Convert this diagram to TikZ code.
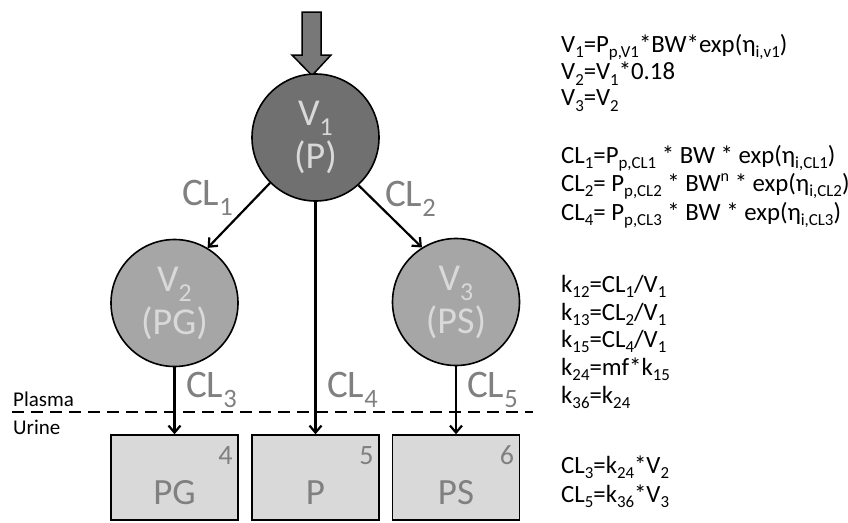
\documentclass[tikz,border=0pt]{standalone}
\usepackage{fontspec}
\usepackage{graphicx}
\setmainfont{Carlito}
\usetikzlibrary{arrows.meta}
\definecolor{darkc}{RGB}{112,112,112}
\definecolor{lightc}{RGB}{166,166,166}
\definecolor{ctext}{RGB}{217,217,217}
\definecolor{lblc}{RGB}{128,128,128}
\definecolor{boxf}{RGB}{217,217,217}
\definecolor{arrf}{RGB}{120,120,120}
\newcommand\sbs[1]{\raisebox{-0.27em}{\scalebox{0.68}{#1}}}
\newcommand\esb[1]{\raisebox{-0.23em}{\scalebox{0.68}{#1}}}
\newcommand\sps[1]{\raisebox{0.4em}{\scalebox{0.65}{#1}}}
\begin{document}
\begin{tikzpicture}[x=1pt,y=-1pt,
  circ/.style={circle, draw=black, line width=1.6pt, minimum size=127pt, inner sep=0pt,
    text=ctext, align=center, font=\fontsize{38}{43}\selectfont},
  boxn/.style={draw=black, line width=1.5pt, fill=boxf, minimum width=127pt, minimum height=85pt, inner sep=0pt},
  boxtxt/.style={text=lblc, font=\fontsize{37}{40}\selectfont, inner sep=0pt, anchor=base},
  numtxt/.style={text=lblc, font=\fontsize{28}{30}\selectfont, inner sep=0pt, anchor=base east},
  cl/.style={text=lblc, font=\fontsize{39}{40}\selectfont, inner sep=0pt, anchor=base west},
  arr/.style={-{Straight Barb[length=7pt,width=12pt]}, line width=2.2pt},
  eq/.style={font=\fontsize{24.8}{26}\selectfont, inner sep=0pt, anchor=base west},
  side/.style={font=\fontsize{21}{22}\selectfont, inner sep=0pt, anchor=base west},
  dline/.style={line width=2.5pt, dash pattern=on 12pt off 7pt}
]
\useasboundingbox (0,0) rectangle (848,522);

% input arrow
\draw[fill=arrf, line width=1.5pt, line join=miter] (302,12) -- (321,12) -- (321,55) -- (331,55) -- (312,75.5) -- (292,55) -- (302,55) -- cycle;

% compartments
\node[circ, fill=darkc] (v1) at (315.5,137.5) {V\sbs{1}\\(P)};
\node[circ, fill=lightc] (v2) at (174.5,303) {V\sbs{2}\\(PG)};
\node[circ, fill=lightc] (v3) at (456,302) {V\sbs{3}\\(PS)};

% urine boxes
\node[boxn] (pg) at (174.5,477.5) {};
\node[boxn] (p) at (315.5,477.5) {};
\node[boxn] (ps) at (456,477.5) {};
\node[boxtxt] (pgt) at ([yshift=16pt]pg.south) {PG};
\node[boxtxt] (pt) at ([yshift=16pt]p.south) {P};
\node[boxtxt] (pst) at ([yshift=16pt]ps.south) {PS};
\node[numtxt] (pgn) at ([xshift=-6pt,yshift=-30pt]pg.north east) {4};
\node[numtxt] (pn) at ([xshift=-6pt,yshift=-30pt]p.north east) {5};
\node[numtxt] (psn) at ([xshift=-6pt,yshift=-30pt]ps.north east) {6};

% flows
\draw[arr] (v1.225) -- (v2.59);
\draw[arr] (v1.-48) -- (v3.122);
\draw[arr] (v1.south) -- (p.north);
\draw[arr] (v2.south) -- (pg.north);
\draw[arr] (v3.south) -- (ps.north);

% clearance labels
\node[cl] (cl1) at (182,205) {CL\sbs{1}};
\node[cl] (cl2) at (385,206) {CL\sbs{2}};
\node[cl] (cl3) at (186,397) {CL\sbs{3}};
\node[cl] (cl4) at (327,397) {CL\sbs{4}};
\node[cl] (cl5) at (467,397) {CL\sbs{5}};

% plasma / urine boundary
\coordinate (dl) at (12,412);
\coordinate (dr) at (533,412);
\draw[dline] (dl) -- (dr);
\node[side] (plasma) at (13,406) {Plasma};
\node[side] (urine) at (13,434) {Urine};

% equations
\node[eq] (e1) at (561,52) {V\esb{1}=P\esb{p,V1}*BW*exp(η\esb{i,v1})};
\node[eq] (e2) at (561,79.5) {V\esb{2}=V\esb{1}*0.18};
\node[eq] (e3) at (561,105.5) {V\esb{3}=V\esb{2}};
\node[eq] (e4) at (561,163) {CL\esb{1}=P\esb{p,CL1} * BW * exp(η\esb{i,CL1})};
\node[eq] (e5) at (561,191) {CL\esb{2}= P\esb{p,CL2} * BW\sps{n} * exp(η\esb{i,CL2})};
\node[eq] (e6) at (561,220) {CL\esb{4}= P\esb{p,CL3} * BW * exp(η\esb{i,CL3})};
\node[eq] (e7) at (561,292) {k\esb{12}=CL\esb{1}/V\esb{1}};
\node[eq] (e8) at (561,320) {k\esb{13}=CL\esb{2}/V\esb{1}};
\node[eq] (e9) at (561,347) {k\esb{15}=CL\esb{4}/V\esb{1}};
\node[eq] (e10) at (561,375) {k\esb{24}=mf*k\esb{15}};
\node[eq] (e11) at (561,403) {k\esb{36}=k\esb{24}};
\node[eq] (e12) at (561,473) {CL\esb{3}=k\esb{24}*V\esb{2}};
\node[eq] (e13) at (561,502) {CL\esb{5}=k\esb{36}*V\esb{3}};
\end{tikzpicture}
\end{document}
